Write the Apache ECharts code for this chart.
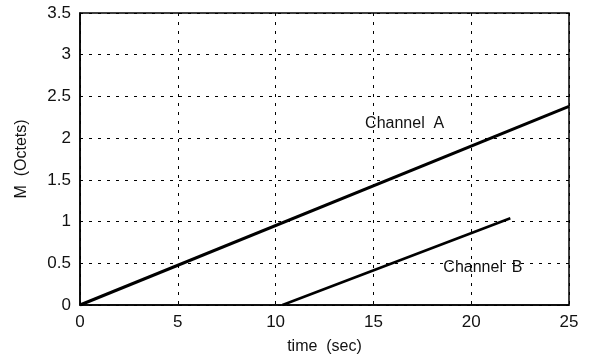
<!DOCTYPE html>
<html><head><meta charset="utf-8">
<script src="https://cdn.jsdelivr.net/npm/echarts@6/dist/echarts.min.js"></script>
<style>html,body{margin:0;padding:0;background:#fff}#c{width:590px;height:360px}</style>
</head><body><div id="c"></div>
<script>
const channelA = [[0, 0], [25, 2.38]];
const channelB = [[10.35, 0], [22, 1.04]];
const labelA = {name: 'Channel  A', coord: [16.6, 2.17]};
const labelB = {name: 'Channel  B', coord: [20.6, 0.45]};
const xName = 'time  (sec)';
const yName = 'M  (Octets)';

const chart = echarts.init(document.getElementById('c'));
const font = 'Liberation Sans, Arial, sans-serif';
function lbl(l){return {coord:l.coord, symbol:'circle', symbolSize:1, itemStyle:{color:'rgba(0,0,0,0)'},
  label:{show:true, position:'inside', formatter:l.name, color:'#111', fontSize:16, fontFamily:font}};}
chart.setOption({
  animation:false,
  grid:{left:80, right:21, top:13, bottom:52, show:true, borderColor:'#000', borderWidth:1.5},
  xAxis:{type:'value', min:0, max:25, interval:5, name:xName, nameLocation:'middle', nameGap:34,
    nameTextStyle:{color:'#111', fontSize:16, fontFamily:font},
    axisLine:{lineStyle:{color:'#000', width:1.5}}, axisTick:{show:false},
    axisLabel:{color:'#111', fontSize:17, fontFamily:font, margin:9},
    splitLine:{show:true, lineStyle:{color:'#000', type:[3,6], width:1}}},
  yAxis:{type:'value', min:0, max:3.5, interval:0.5, name:yName, nameLocation:'middle', nameGap:50,
    nameTextStyle:{color:'#111', fontSize:16, fontFamily:font},
    axisLine:{show:true, lineStyle:{color:'#000', width:1.5}}, axisTick:{show:false},
    axisLabel:{color:'#111', fontSize:17, fontFamily:font, margin:9},
    splitLine:{show:true, lineStyle:{color:'#000', type:[3,6], width:1}}},
  series:[
    {type:'line', data:channelA, symbol:'none', lineStyle:{color:'#000', width:3},
     markPoint:{data:[lbl(labelA)]}},
    {type:'line', data:channelB, symbol:'none', lineStyle:{color:'#000', width:2.5},
     markPoint:{data:[lbl(labelB)]}}
  ]
});
</script></body></html>
